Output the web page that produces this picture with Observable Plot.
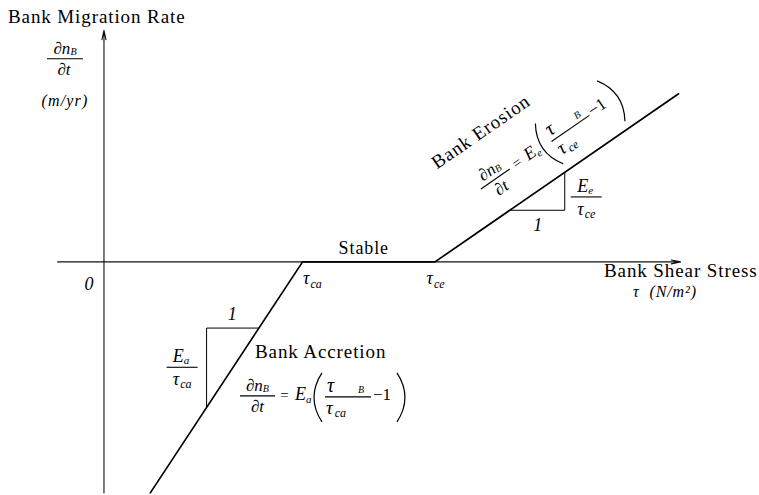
<!DOCTYPE html>
<html><head><meta charset="utf-8">
<script src="https://cdn.jsdelivr.net/npm/d3@7"></script>
<script src="https://cdn.jsdelivr.net/npm/@observablehq/plot@0.6"></script>
<style>body{margin:0;background:#fff} #chart svg{display:block}</style>
</head><body><div id="chart"></div>
<script>
// ---- data (schematic units) ----
const tau = [0.70, 3.0, 5.0, 8.68];          // bank shear stress
const rate = [-3.49, 0, 0, 2.54];           // bank migration rate
const tauCa = 3.0, tauCe = 5.0;             // critical stresses
const axisTau = [-0.70, 8.71];
const axisRate = [-3.49, 3.50];
const accTriTau = [2.34, 1.55, 1.55];
const accTriRate = [-1.0, -1.0, -2.2];
const eroTriTau = [6.13, 6.96, 6.96];
const eroTriRate = [0.78, 0.78, 1.35];
const xDomain = [-1.563, 9.902];
const yDomain = [-3.53, 3.95];

const serif = "'Liberation Serif','Times New Roman',serif";
const curve = tau.map((t, i) => ({tau: t, rate: rate[i]}));
const accTri = accTriTau.map((t, i) => ({tau: t, rate: accTriRate[i]}));
const eroTri = eroTriTau.map((t, i) => ({tau: t, rate: eroTriRate[i]}));

const chart = Plot.plot({
  width: 759, height: 495, margin: 0,
  x: {domain: xDomain, axis: null},
  y: {domain: yDomain, axis: null},
  style: {fontFamily: serif, background: "#fff", color: "#000", letterSpacing: "0.9px"},
  marks: [
    Plot.arrow([{a: axisTau[0], b: axisTau[1]}], {x1: "a", x2: "b", y1: () => 0, y2: () => 0,
      stroke: "#111", strokeWidth: 1.1, headLength: 13, headAngle: 24}),
    Plot.arrow([{a: axisRate[0], b: axisRate[1]}], {x1: () => 0, x2: () => 0, y1: "a", y2: "b",
      stroke: "#111", strokeWidth: 1.1, headLength: 13, headAngle: 24}),
    Plot.line(curve, {x: "tau", y: "rate", stroke: "#000", strokeWidth: 1.7}),
    Plot.line(accTri, {x: "tau", y: "rate", stroke: "#000", strokeWidth: 1}),
    Plot.line(eroTri, {x: "tau", y: "rate", stroke: "#000", strokeWidth: 1}),
    Plot.text(["Bank Migration Rate"], {x: () => 0, y: () => axisRate[1], text: d => d, dx: -96, dy: -7,
      textAnchor: "start", lineAnchor: "bottom", fontSize: 19, fill: "#000"}),
    Plot.text(["Stable"], {x: () => (tauCa + tauCe) / 2, y: () => 0, text: d => d, dx: -5, dy: -8,
      textAnchor: "middle", lineAnchor: "bottom", fontSize: 18, fill: "#000"}),
    Plot.text(["Bank Shear Stress"], {x: () => axisTau[1], y: () => 0, text: d => d, dx: -76.6, dy: 15.5,
      textAnchor: "start", lineAnchor: "bottom", fontSize: 19, fill: "#000"}),
    Plot.text(["τ  (N/m²)"], {x: () => axisTau[1], y: () => 0, text: d => d, dx: -47.6, dy: 35.5,
      textAnchor: "start", lineAnchor: "bottom", fontSize: 16, fontStyle: "italic", fill: "#000"}),
    Plot.text(["0"], {x: () => 0, y: () => 0, text: d => d, dx: -14.5, dy: 28,
      textAnchor: "middle", lineAnchor: "bottom", fontSize: 18, fontStyle: "italic", fill: "#000"})
  ]
});

const svgEl = chart.tagName.toLowerCase() === "svg" ? chart : chart.querySelector("svg");
document.getElementById("chart").appendChild(chart);

const sx = chart.scale("x"), sy = chart.scale("y");
const X = sx.apply ? v => sx.apply(v) : d3.scaleLinear(sx.domain, sx.range);
const Y = sy.apply ? v => sy.apply(v) : d3.scaleLinear(sy.domain, sy.range);
const svg = d3.select(svgEl);

function label(g, x, y, parts, {anchor = "start", size = 17, italic = true} = {}) {
  const t = g.append("text").attr("x", x).attr("y", y).attr("text-anchor", anchor)
    .attr("font-size", size).attr("font-style", italic ? "italic" : "normal")
    .attr("fill", "#000").attr("font-family", serif);
  for (const p of parts) {
    const [s, o = {}] = Array.isArray(p) ? p : [p];
    const ts = t.append("tspan").text(s);
    if (o.size) ts.attr("font-size", o.size);
    if (o.dy) ts.attr("dy", o.dy);
    if (o.dx) ts.attr("dx", o.dx);
    if (o.italic === false) ts.attr("font-style", "normal");
  }
  return t;
}
function bar(g, x1, x2, y) {
  g.append("line").attr("x1", x1).attr("x2", x2).attr("y1", y).attr("y2", y)
    .attr("stroke", "#000").attr("stroke-width", 1.1);
}
function group(x, y, angle = 0) {
  return svg.append("g").attr("letter-spacing", 0)
    .attr("transform", `translate(${x},${y}) rotate(${angle})`);
}
function fraction(g, cx, by, num, numSub, den, denSub, w) {
  label(g, cx - 1, by - 5, [num, [numSub, {size: 11, dy: 2}]], {anchor: "middle", size: 18});
  bar(g, cx - w / 2, cx + w / 2, by);
  label(g, cx, by + 18, [den, [denSub, {size: 12, dy: 3, dx: 1}]], {anchor: "middle", size: 18});
}
function equation(g, title, titleX, titleY, sub, denSub) {
  label(g, titleX, titleY, [title], {italic: false, size: 19}).attr("letter-spacing", 0.9);
  label(g, 17.5, -5, ["∂n", ["B", {size: 10, dy: 1}]], {anchor: "middle", size: 17});
  bar(g, 0, 35, 0);
  label(g, 17.5, 16, ["∂t"], {anchor: "middle", size: 17});
  label(g, 44.5, 4, ["="], {anchor: "middle", size: 15, italic: false});
  label(g, 55, 4, ["E", [sub, {size: 11, dy: 3}]], {size: 18});
  g.append("path").attr("d", "M82,-23 Q66,1.5 82,26").attr("fill", "none").attr("stroke", "#000").attr("stroke-width", 1.2);
  label(g, 87, -4, ["τ"], {size: 20});
  label(g, 118, -3, ["B"], {size: 10});
  bar(g, 85, 131, 1);
  label(g, 86, 18, ["τ", [denSub, {size: 12, dy: 3, dx: 2}]], {size: 19});
  label(g, 133, 4, ["−1"], {size: 17, italic: false});
  g.append("path").attr("d", "M157,-23 Q173,1.5 157,26").attr("fill", "none").attr("stroke", "#000").attr("stroke-width", 1.2);
}

// y-axis label fraction
const gy = group(X(0), Y(axisRate[1]));
label(gy, -38.5, 24, ["∂n", ["B", {size: 10, dy: 1}]], {anchor: "middle", size: 17});
bar(gy, -56.5, -20.5, 29);
label(gy, -39.5, 45, ["∂t"], {anchor: "middle", size: 17});
label(gy, -38.5, 76, ["(m/yr)"], {anchor: "middle", size: 16}).attr("letter-spacing", 1.2);

// critical stress labels
const gca = group(X(tauCa), Y(0));
label(gca, 1, 23, ["τ", ["ca", {size: 12, dy: 4, dx: 1}]], {size: 18});
const gce = group(X(tauCe), Y(0));
label(gce, -8, 23, ["τ", ["ce", {size: 12, dy: 4, dx: 1}]], {size: 18});

// accretion equation
const gA = group(X(2.062), Y(-2.032));
equation(gA, "Bank Accretion", 15, -38, "a", "ca");

// erosion equation, rotated along the erosion line
const ang = Math.atan2(Y(rate[3]) - Y(rate[2]), X(tau[3]) - X(tau[2])) * 180 / Math.PI;
const gE = group(X(5.702), Y(1.095), ang);
equation(gE, "Bank Erosion", -25, -41, "e", "ce");

// slope triangle labels
const gA1 = group(X((accTriTau[0] + accTriTau[1]) / 2), Y(accTriRate[0]));
label(gA1, 0, -8, ["1"], {anchor: "middle", size: 18});
const gAf = group(X(accTriTau[1]), Y((accTriRate[1] + accTriRate[2]) / 2));
fraction(gAf, -24, 0, "E", "a", "τ", "ca", 31);

const gE1 = group(X((eroTriTau[0] + eroTriTau[1]) / 2), Y(eroTriRate[0]));
label(gE1, 1, 21, ["1"], {anchor: "middle", size: 18});
const gEf = group(X(eroTriTau[1]), Y((eroTriRate[1] + eroTriRate[2]) / 2));
fraction(gEf, 22, 6, "E", "e", "τ", "ce", 31);
</script>
</body></html>
